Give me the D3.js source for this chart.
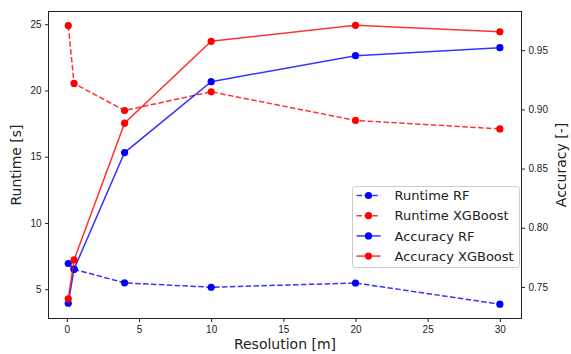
<!DOCTYPE html>
<html>
<head>
<meta charset="utf-8">
<script src="https://cdn.jsdelivr.net/npm/d3@7"></script>
<style>
  body { margin: 0; background: #fff; }
  svg { font-family: "DejaVu Sans", sans-serif; }
  .tick text { fill: #222; font-size: 10px; }
  .tick line { stroke: #222; }
</style>
</head>
<body>
<div id="chart"></div>
<script>
// resolution [m]
var resolution = [0.1, 0.5, 4, 10, 20, 30];
// runtime [s]
var runtimeRF = [6.94, 6.5, 5.48, 5.15, 5.47, 3.87];
var runtimeXGB = [24.9, 20.53, 18.49, 19.9, 17.74, 17.1];
// accuracy [-]
var accuracyRF = [0.7362, 0.765, 0.8635, 0.9234, 0.9454, 0.9521];
var accuracyXGB = [0.7399, 0.7728, 0.8883, 0.9575, 0.971, 0.9656];

var xTicks = [0, 5, 10, 15, 20, 25, 30];
var yTicks = [5, 10, 15, 20, 25];
var y2Ticks = [0.75, 0.80, 0.85, 0.90, 0.95];

var width = 571, height = 354;
// plot area (window.top is read-only, so no global "top")
var pLeft = 48.5, pRight = 521.5, pTop = 11.5, pBottom = 318.5;

var svg = d3.select("#chart").append("svg")
    .attr("width", width)
    .attr("height", height);

var x = d3.scaleLinear().domain([-1.27, 31.5]).range([pLeft, pRight]);
var y = d3.scaleLinear().domain([2.79, 25.96]).range([pBottom, pTop]);
var y2 = d3.scaleLinear().domain([0.7233, 0.9827]).range([pBottom, pTop]);

var blue = "#0000ff", red = "#ff0000";
var dash = "5.5,2.4";

var series = [
  {name: "Runtime RF", vals: runtimeRF, scale: y, color: blue, dash: dash},
  {name: "Runtime XGBoost", vals: runtimeXGB, scale: y, color: red, dash: dash},
  {name: "Accuracy RF", vals: accuracyRF, scale: y2, color: blue, dash: null},
  {name: "Accuracy XGBoost", vals: accuracyXGB, scale: y2, color: red, dash: null}
];

// axes
svg.append("g")
    .attr("transform", "translate(0," + pBottom + ")")
    .call(d3.axisBottom(x).tickValues(xTicks).tickSize(3.5).tickPadding(3.5).tickSizeOuter(0))
    .call(function(g){ g.select(".domain").remove(); });

svg.append("g")
    .attr("transform", "translate(" + pLeft + ",0)")
    .call(d3.axisLeft(y).tickValues(yTicks).tickSize(3.5).tickPadding(3.5).tickSizeOuter(0))
    .call(function(g){ g.select(".domain").remove(); });

svg.append("g")
    .attr("transform", "translate(" + pRight + ",0)")
    .call(d3.axisRight(y2).tickValues(y2Ticks).tickFormat(d3.format(".2f")).tickSize(3.5).tickPadding(3.5).tickSizeOuter(0))
    .call(function(g){ g.select(".domain").remove(); });

// lines + markers
series.forEach(function(s){
  var line = d3.line()
      .x(function(d, i){ return x(resolution[i]); })
      .y(function(d){ return s.scale(d); });
  svg.append("path")
      .datum(s.vals)
      .attr("d", line)
      .attr("fill", "none")
      .attr("stroke", s.color)
      .attr("stroke-opacity", 0.8)
      .attr("stroke-width", 1.5)
      .attr("stroke-dasharray", s.dash);
  svg.append("g").selectAll("circle")
    .data(s.vals)
    .enter().append("circle")
      .attr("cx", function(d, i){ return x(resolution[i]); })
      .attr("cy", function(d){ return s.scale(d); })
      .attr("r", 3.6)
      .attr("fill", s.color);
});

// frame
svg.append("rect")
    .attr("x", pLeft).attr("y", pTop)
    .attr("width", pRight - pLeft).attr("height", pBottom - pTop)
    .attr("fill", "none")
    .attr("stroke", "#222")
    .attr("stroke-width", 1);

// axis labels
svg.append("text")
    .attr("x", (pLeft + pRight) / 2)
    .attr("y", 349)
    .attr("text-anchor", "middle")
    .attr("font-size", 14)
    .attr("fill", "#222")
    .text("Resolution [m]");

svg.append("text")
    .attr("transform", "translate(21," + (pTop + pBottom) / 2 + ") rotate(-90)")
    .attr("text-anchor", "middle")
    .attr("font-size", 14)
    .attr("fill", "#222")
    .text("Runtime [s]");

svg.append("text")
    .attr("transform", "translate(566," + (pTop + pBottom) / 2 + ") rotate(-90)")
    .attr("text-anchor", "middle")
    .attr("font-size", 14)
    .attr("fill", "#222")
    .text("Accuracy [-]");

// legend
var legend = svg.append("g").attr("transform", "translate(352.5,186.5)");
legend.append("rect")
    .attr("width", 167).attr("height", 81)
    .attr("rx", 3)
    .attr("fill", "#fff").attr("fill-opacity", 0.8)
    .attr("stroke", "#ccc");

var item = legend.selectAll("g.item")
    .data(series)
  .enter().append("g")
    .attr("class", "item")
    .attr("transform", function(d, i){ return "translate(0," + (9 + i * 20.2) + ")"; });

item.append("line")
    .attr("x1", 4).attr("x2", 28)
    .attr("stroke", function(d){ return d.color; })
    .attr("stroke-opacity", 0.8)
    .attr("stroke-width", 1.5)
    .attr("stroke-dasharray", function(d){ return d.dash; });
item.append("circle")
    .attr("cx", 16).attr("r", 3.6)
    .attr("fill", function(d){ return d.color; });
item.append("text")
    .attr("x", 42).attr("y", 4.7)
    .attr("font-size", 13)
    .attr("fill", "#222")
    .text(function(d){ return d.name; });
</script>
</body>
</html>
